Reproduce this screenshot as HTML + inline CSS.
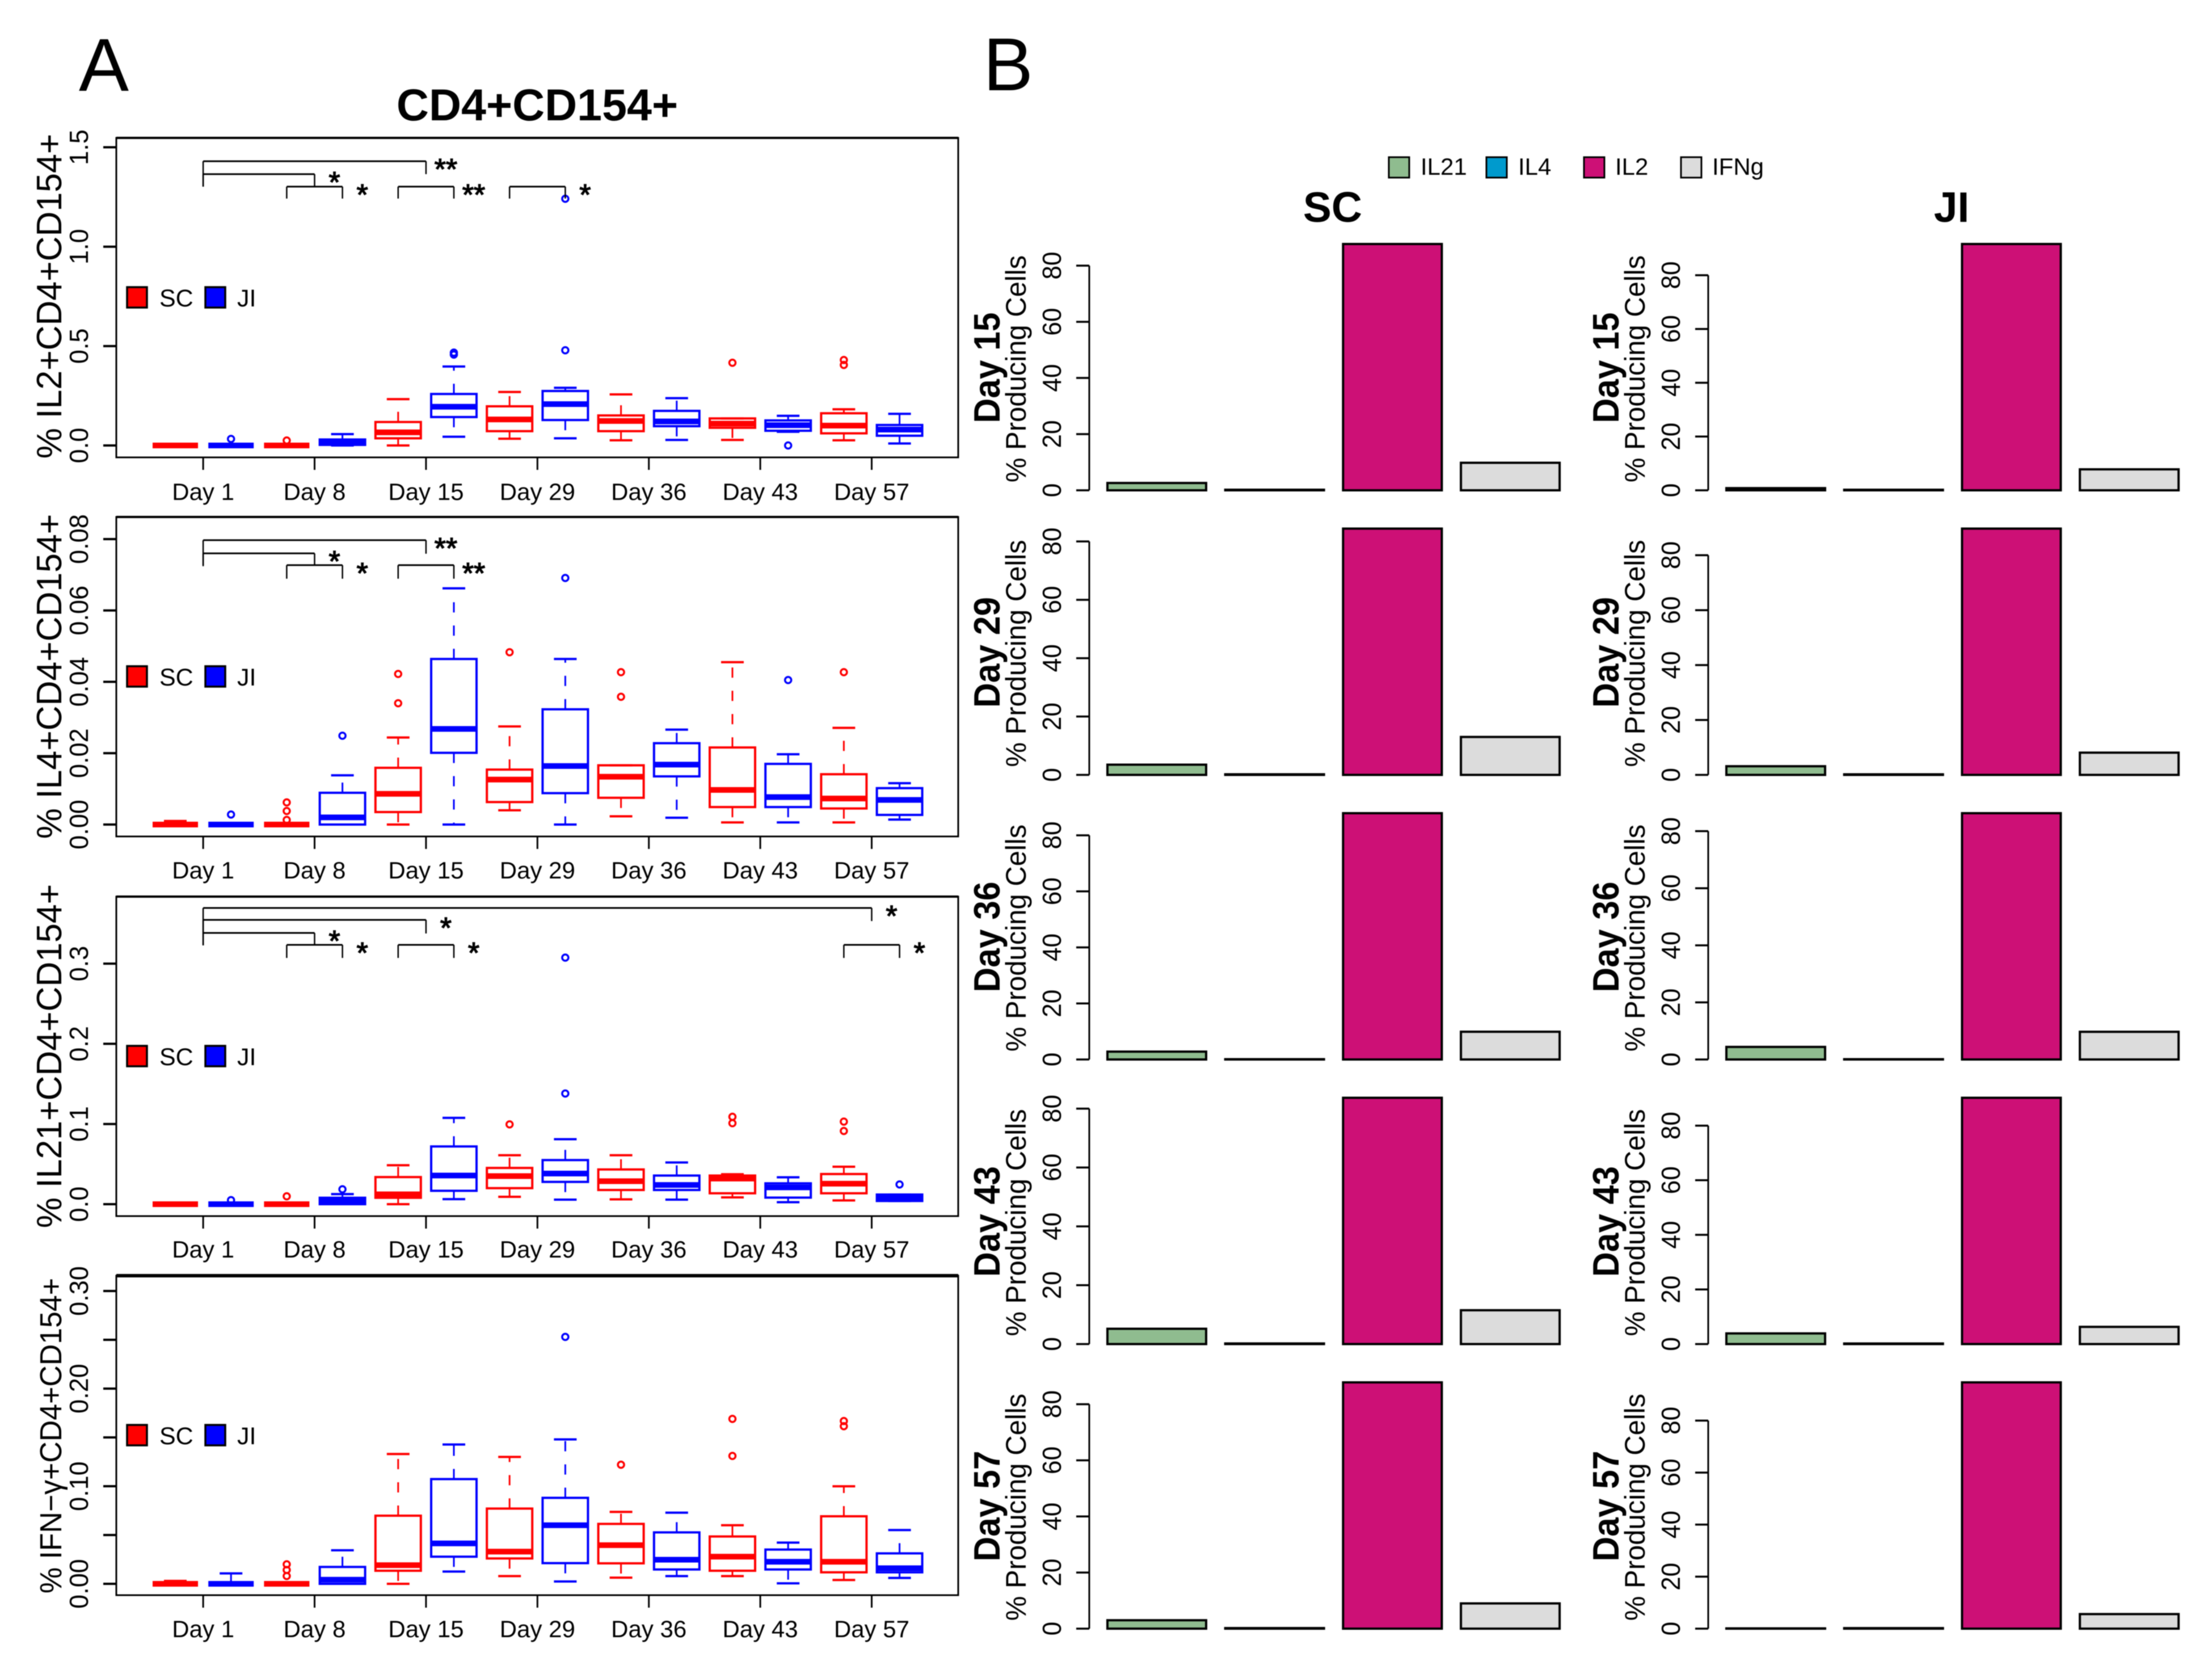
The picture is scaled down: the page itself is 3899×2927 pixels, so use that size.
<!DOCTYPE html>
<html lang="en">
<head>
<meta charset="utf-8">
<title>CD4+CD154+ cytokine boxplots and bar charts</title>
<style>
html,body{margin:0;padding:0;background:#fff}
svg{display:block;filter:blur(0.7px)}
text{font-family:"Liberation Sans",Arial,sans-serif;fill:#000}
</style>
</head>
<body>
<svg id="figure" xmlns="http://www.w3.org/2000/svg" width="3899" height="2927" viewBox="0 0 3899 2927">
<rect x="0" y="0" width="3899" height="2927" fill="#fff"/>
<text x="139" y="160" font-size="132">A</text>
<text x="1733" y="159" font-size="132">B</text>
<text x="947" y="212" font-size="79" font-weight="bold" text-anchor="middle">CD4+CD154+</text>
<text x="2349" y="391" font-size="75" font-weight="bold" text-anchor="middle">SC</text>
<text x="3440" y="391" font-size="75" font-weight="bold" text-anchor="middle">JI</text>
<g id="panels"></g>
<g id="bars"></g>
</svg>
<script>
// ---------- shared categories ----------
const dayLabels = ['Day 1','Day 8','Day 15','Day 29','Day 36','Day 43','Day 57'];
const barRowLabels = ['Day 15','Day 29','Day 36','Day 43','Day 57'];
const barTicks = [0,20,40,60,80];
const cytokineNames = ['IL21','IL4','IL2','IFNg'];

// ---------- panel 1: IL2 (14 boxes alternate SC, JI across 7 days) ----------
const il2Ticks = [0,0.5,1,1.5];
const il2TickLabels = ['0.0','0.5','1.0','1.5'];
const il2Low = [0,0,0,0,0,.044,.034,.036,.026,.028,.028,.069,.026,.01];
const il2Q1  = [0,0,0,.003,.036,.143,.072,.128,.072,.097,.089,.074,.061,.049];
const il2Med = [0,0,0,.012,.066,.195,.131,.208,.123,.121,.11,.102,.1,.08];
const il2Q3  = [0,0,0,.03,.118,.259,.197,.274,.151,.174,.136,.126,.162,.103];
const il2High= [0,0,0,.057,.233,.397,.269,.29,.257,.238,.136,.149,.182,.159];
const il2Out = [[],[.033],[.025],[],[],[.467,.457],[],[.479,1.241],[],[],[.416],[0],[.43,.405],[]];
const il2Brackets = [[.5,4.5,1.43,1.302,1.365,'**'],[.5,2.5,1.365,1.302,1.302,'*'],[2,3,1.302,1.242,1.242,'*'],[4,5,1.302,1.242,1.242,'**'],[6,7,1.302,1.242,1.242,'*']];

// ---------- panel 2: IL4 ----------
const il4Ticks = [0,.02,.04,.06,.08];
const il4TickLabels = ['0.00','0.02','0.04','0.06','0.08'];
const il4Low = [0,0,0,0,0,0,.004,0,.0023,.0019,.0006,.0006,.0006,.0014];
const il4Q1  = [0,0,0,0,.0035,.0201,.0063,.0088,.0075,.0135,.0049,.0049,.0045,.0027];
const il4Med = [0,0,0,.002,.0086,.0268,.0126,.0164,.0134,.0168,.0097,.0077,.0073,.0069];
const il4Q3  = [0,0,0,.0089,.0159,.0464,.0154,.0323,.0166,.0228,.0216,.017,.0141,.0102];
const il4High= [.001,0,0,.0138,.0244,.0662,.0275,.0464,.0166,.0266,.0455,.0197,.0271,.0116];
const il4Out = [[],[.0028],[.0062,.0038,.0013],[.0249],[.0422,.034],[],[.0483],[.0691],[.0427,.0358],[],[],[.0405],[.0427],[]];
const il4Brackets = [[.5,4.5,.0797,.0724,.0759,'**'],[.5,2.5,.076,.0727,.0727,'*'],[2,3,.0727,.0689,.0689,'*'],[4,5,.0727,.0689,.0689,'**']];

// ---------- panel 3: IL21 ----------
const il21Ticks = [0,.1,.2,.3];
const il21TickLabels = ['0.0','0.1','0.2','0.3'];
const il21Low = [0,0,0,0,0,.0063,.0092,.0057,.006,.0057,.0085,.0025,.0047,.004];
const il21Q1  = [0,0,0,0,.008,.0167,.02,.0278,.0177,.0177,.0136,.0082,.0136,.004];
const il21Med = [0,0,0,.0035,.0123,.0357,.035,.0382,.0287,.024,.0319,.021,.0256,.008];
const il21Q3  = [0,0,0,.008,.0338,.072,.0452,.055,.0433,.0357,.0357,.026,.0376,.012];
const il21High= [0,.002,0,.0126,.0486,.1077,.061,.081,.061,.052,.0373,.0335,.0467,.012];
const il21Out = [[],[.005],[.0098],[.0186],[],[],[.0995],[.138,.3075],[],[],[.109,.101],[],[.103,.0913],[.0246]];
const il21Brackets = [[.5,12.5,.3694,.3227,.3531,'*'],[.5,4.5,.3546,.3376,.3376,'*'],[.5,2.5,.3383,.3234,.3234,'*'],[2,3,.3234,.3071,.3071,'*'],[4,5,.3234,.3071,.3071,'*'],[12,13,.3234,.3071,.3071,'*']];

// ---------- panel 4: IFN-gamma ----------
const ifnTicks = [0,.05,.1,.15,.2,.25,.3];
const ifnTickLabels = ['0.00','','0.10','','0.20','','0.30'];
const ifnLow = [0,0,0,0,0,.0126,.0079,.0024,.0063,.0079,.0079,.0005,.0039,.006];
const ifnQ1  = [0,0,0,0,.0134,.0278,.026,.0212,.021,.0147,.0134,.0147,.0118,.0118];
const ifnMed = [0,0,0,.0042,.0191,.0414,.033,.06,.0396,.0247,.0278,.0226,.0226,.016];
const ifnQ3  = [0,0,0,.0173,.0698,.1073,.0771,.0881,.0614,.0527,.0485,.0351,.0692,.0312];
const ifnHigh= [.003,.0107,0,.0344,.133,.1427,.13,.148,.0737,.0729,.06,.0422,.0999,.0551];
const ifnOut = [[],[],[.02,.0142,.008],[],[],[],[],[.253],[.122],[],[.169,.131],[],[.1668,.1615],[]];
const ifnBrackets = [];

// ---------- bar charts (one value per row in barRowLabels) ----------
const scIl21 = [2.6,3.5,2.8,5.2,3.0];
const scIl4  = [.2,.2,.1,.2,.2];
const scIl2  = [87.7,84.4,87.9,83.7,87.8];
const scIfng = [9.8,13,9.9,11.5,9.0];
const scAxisMax = [87.7,84.4,87.9,83.7,87.8];
const jiIl21 = [.8,3.15,4.4,3.9,.1];
const jiIl4  = [.2,.2,.1,.2,.2];
const jiIl2  = [91.6,89.7,86.3,90.2,94.7];
const jiIfng = [7.8,8.1,9.7,6.3,5.6];
const jiAxisMax = [91.6,89.7,86.3,90.2,94.7];

// ---------- helpers ----------
const NS = 'http://www.w3.org/2000/svg';
function node(parent, tag, attrs, name) {
  const el = document.createElementNS(NS, tag);
  for (const k in attrs) el.setAttribute(k, attrs[k]);
  
  
  parent.appendChild(el);
  return el;
}
function line(parent, x1, y1, x2, y2, stroke, width, name, dash) {
  const a = {x1, y1, x2, y2, stroke, 'stroke-width': width};
  if (dash) a['stroke-dasharray'] = dash;
  return node(parent, 'line', a, name);
}
function vtext(parent, x, y, str, size, sx, bold, name) {
  const a = {transform: `translate(${x},${y}) rotate(-90) scale(${sx},1)`, 'font-size': size, 'text-anchor': 'middle'};
  if (bold) a['font-weight'] = 'bold';
  const t = node(parent, 'text', a, name);
  t.textContent = str;
  return t;
}
function htext(parent, x, y, str, size, anchor, name) {
  const t = node(parent, 'text', {x, y, 'font-size': size, 'text-anchor': anchor}, name);
  t.textContent = str;
  return t;
}

// ---------- boxplot axis functions ----------
const xBox = i => 309 + 98.2 * i;
const xTick = k => xBox(2 * k + .5);
const boxColors = ['#ff0000', '#0000ff'];

const boxPanels = [
  {key:'il2', top:243, bottom:806, zero:785, pxPerUnit:350.3, title:'% IL2+CD4+CD154+', titleY:522, titleSize:62, titleSx:.98,
   ticks:il2Ticks, tickLabels:il2TickLabels, lo:il2Low, q1:il2Q1, med:il2Med, q3:il2Q3, hi:il2High, out:il2Out, brackets:il2Brackets, labelY:881},
  {key:'il4', top:911, bottom:1474, zero:1453, pxPerUnit:6287.5, title:'% IL4+CD4+CD154+', titleY:1192, titleSize:62, titleSx:.98,
   ticks:il4Ticks, tickLabels:il4TickLabels, lo:il4Low, q1:il4Q1, med:il4Med, q3:il4Q3, hi:il4High, out:il4Out, brackets:il4Brackets, labelY:1548},
  {key:'il21', top:1580, bottom:2143, zero:2122, pxPerUnit:1413, title:'% IL21+CD4+CD154+', titleY:1861, titleSize:62, titleSx:.98,
   ticks:il21Ticks, tickLabels:il21TickLabels, lo:il21Low, q1:il21Q1, med:il21Med, q3:il21Q3, hi:il21High, out:il21Out, brackets:il21Brackets, labelY:2216},
  {key:'ifn', top:2248, bottom:2811, zero:2791, pxPerUnit:1720, title:'% IFN\u2212\u03b3+CD4+CD154+', titleY:2530, titleSize:54, titleSx:.96,
   ticks:ifnTicks, tickLabels:ifnTickLabels, lo:ifnLow, q1:ifnQ1, med:ifnMed, q3:ifnQ3, hi:ifnHigh, out:ifnOut, brackets:ifnBrackets, labelY:2885}
];

const panelsRoot = document.getElementById('panels');
boxPanels.forEach(p => {
  const g = node(panelsRoot, 'g', {}, p.key + '-boxplot');
  const y = v => p.zero - v * p.pxPerUnit;

  // frame
  node(g, 'rect', {x:205, y:p.top, width:1484, height:p.bottom - p.top, fill:'none', stroke:'#000', 'stroke-width':3}, p.key + '-plot-frame');
  line(g, 205, p.top, 1689, p.top, '#000', p.key === 'ifn' ? 6 : 4, p.key + '-frame-top');

  // y axis
  p.ticks.forEach((t, i) => {
    line(g, 182, y(t), 205, y(t), '#000', 4, p.key + '-y-tick');
    if (p.tickLabels[i]) vtext(g, 155, y(t), p.tickLabels[i], 46, .98, false, p.key + '-y-tick-label');
  });
  vtext(g, 108, p.titleY, p.title, p.titleSize, p.titleSx, false, p.key + '-y-axis-title');

  // x axis
  dayLabels.forEach((d, k) => {
    line(g, xTick(k), p.bottom, xTick(k), p.bottom + 22, '#000', 3, p.key + '-x-tick');
    htext(g, xTick(k), p.labelY, d, 42, 'middle', p.key + '-x-tick-label');
  });

  // boxes
  p.q1.forEach((_, i) => {
    const col = boxColors[i % 2], x = xBox(i);
    const b = node(g, 'g', {}, p.key + '-box-' + dayLabels[Math.floor(i / 2)].replace(' ', '').toLowerCase() + (i % 2 ? '-ji' : '-sc'));
    line(b, x, y(p.q3[i]), x, y(p.hi[i]), col, 3, 'upper-whisker', '18 23');
    line(b, x, y(p.q1[i]), x, y(p.lo[i]), col, 3, 'lower-whisker', '18 23');
    line(b, x - 20, y(p.hi[i]), x + 20, y(p.hi[i]), col, 4, 'upper-cap');
    line(b, x - 20, y(p.lo[i]), x + 20, y(p.lo[i]), col, 4, 'lower-cap');
    node(b, 'rect', {x:x - 40, y:y(p.q3[i]), width:80, height:Math.max(0, y(p.q1[i]) - y(p.q3[i])), fill:'none', stroke:col, 'stroke-width':4}, 'box-iqr');
    line(b, x - 40, y(p.med[i]), x + 40, y(p.med[i]), col, 10, 'median-line');
    p.out[i].forEach(v => {
      node(b, 'circle', {cx:x, cy:y(v), r:5.5, fill:'none', stroke:col, 'stroke-width':3.5}, 'outlier-point');
    });
  });

  // significance brackets
  p.brackets.forEach(br => {
    const s = node(g, 'g', {}, p.key + '-significance-bracket');
    const xa = xBox(br[0]), xb = xBox(br[1]);
    line(s, xa, y(br[2]), xb, y(br[2]), '#000', 3, 'bracket-top');
    line(s, xa, y(br[2]), xa, y(br[3]), '#000', 2.5, 'bracket-left');
    line(s, xb, y(br[2]), xb, y(br[4]), '#000', 2.5, 'bracket-right');
    const star = htext(s, xb + 35, y(br[2]) + 32, br[5], 52, 'middle', 'significance-stars');
    star.setAttribute('stroke', '#000');
    star.setAttribute('stroke-width', '1.5');
  });

  // legend
  const lg = node(g, 'g', {}, p.key + '-legend');
  const ly = p.top + 262;
  [['SC', 224, 281], ['JI', 362, 418]].forEach((e, i) => {
    node(lg, 'rect', {x:e[1], y:ly + 1, width:35, height:36, fill:boxColors[i], stroke:'#000', 'stroke-width':3.5}, 'legend-swatch-' + e[0].toLowerCase());
    htext(lg, e[2], ly + 35, e[0], 43, 'start', 'legend-label-' + e[0].toLowerCase());
  });
});

// ---------- bar chart axis functions ----------
const barColors = ['#8fbc8f', '#009acd', '#cd1076', '#dcdcdc'];
const barBase = r => 864 + 501.5 * r;
const barHeightPx = 434;
const barGroups = [
  {key:'sc', dx:0, il21:scIl21, il4:scIl4, il2:scIl2, ifng:scIfng, max:scAxisMax},
  {key:'ji', dx:1091, il21:jiIl21, il4:jiIl4, il2:jiIl2, ifng:jiIfng, max:jiAxisMax}
];
const barsRoot = document.getElementById('bars');
barGroups.forEach(grp => {
  barRowLabels.forEach((day, r) => {
    const g = node(barsRoot, 'g', {}, grp.key + '-' + day.replace(' ', '').toLowerCase() + '-bars');
    const base = barBase(r);
    const y = v => base - v * barHeightPx / grp.max[r];
    const series = [grp.il21[r], grp.il4[r], grp.il2[r], grp.ifng[r]];
    series.forEach((v, j) => {
      node(g, 'rect', {x:1952 + grp.dx + j * 207.7, y:y(v), width:174, height:base - y(v), fill:barColors[j], stroke:'#000', 'stroke-width':4}, 'bar-' + cytokineNames[j].toLowerCase());
    });
    const ax = 1920 + grp.dx;
    line(g, ax, y(barTicks[0]), ax, y(barTicks[barTicks.length - 1]), '#000', 3, 'y-axis-line');
    barTicks.forEach(t => {
      line(g, ax - 23, y(t), ax, y(t), '#000', 3.5, 'y-tick');
      vtext(g, ax - 50, y(t), String(t), 46, .96, false, 'y-tick-label');
    });
    vtext(g, ax - 112, base - 214, '% Producing Cells', 50, .98, false, 'y-axis-title');
    vtext(g, ax - 158, base - 216, day, 65, .93, true, 'row-day-label');
  });
});

// bar legend
const barLegend = node(barsRoot, 'g', {}, 'cytokine-legend');
const legendSwatchX = [2448, 2620, 2792, 2963];
const legendTextX = [2504, 2676, 2847, 3018];
cytokineNames.forEach((n, j) => {
  node(barLegend, 'rect', {x:legendSwatchX[j], y:277, width:36, height:36, fill:barColors[j], stroke:'#000', 'stroke-width':3}, 'legend-swatch-' + n.toLowerCase());
  htext(barLegend, legendTextX[j], 308, n, 42, 'start', 'legend-label-' + n.toLowerCase());
});
</script>
</body>
</html>
